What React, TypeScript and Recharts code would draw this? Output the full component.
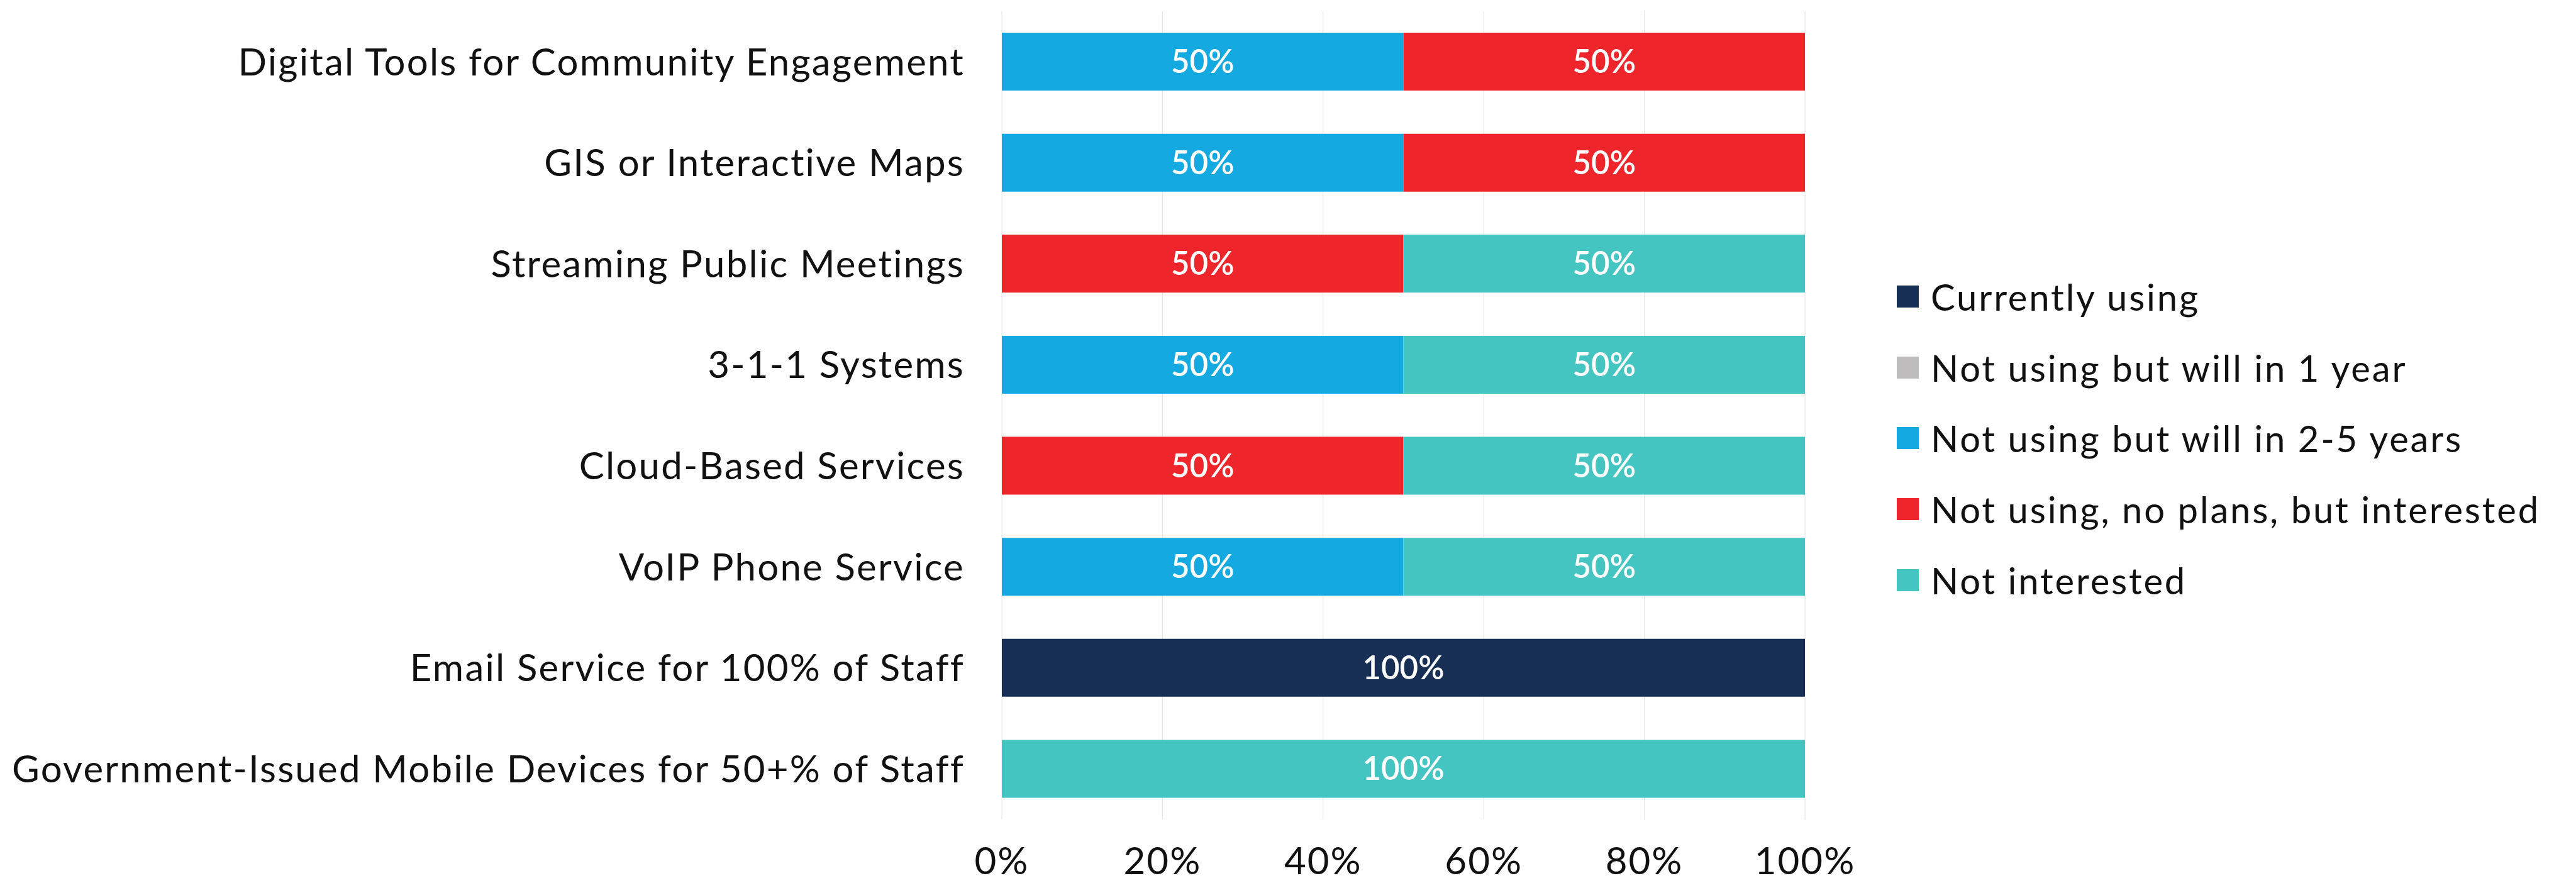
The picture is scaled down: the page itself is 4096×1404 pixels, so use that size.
import React from "react";
import {
  BarChart,
  Bar,
  XAxis,
  YAxis,
  CartesianGrid,
  Legend,
  LabelList,
} from "recharts";

// categories, top to bottom
const categories = [
  "Digital Tools for Community Engagement",
  "GIS or Interactive Maps",
  "Streaming Public Meetings",
  "3-1-1 Systems",
  "Cloud-Based Services",
  "VoIP Phone Service",
  "Email Service for 100% of Staff",
  "Government-Issued Mobile Devices for 50+% of Staff",
];

const currentlyUsing = [0, 0, 0, 0, 0, 0, 100, 0];
const willIn1Year = [0, 0, 0, 0, 0, 0, 0, 0];
const willIn2to5Years = [50, 50, 0, 50, 0, 50, 0, 0];
const interestedNoPlans = [50, 50, 50, 0, 50, 0, 0, 0];
const notInterested = [0, 0, 50, 50, 50, 50, 0, 100];

const xTicks = [0, 20, 40, 60, 80, 100];

const series = [
  { key: "current", name: "Currently using", values: currentlyUsing, color: "#172E55" },
  { key: "oneYear", name: "Not using but will in 1 year", values: willIn1Year, color: "#BDBBBC" },
  { key: "twoFive", name: "Not using but will in 2-5 years", values: willIn2to5Years, color: "#15A9E1" },
  { key: "interested", name: "Not using, no plans, but interested", values: interestedNoPlans, color: "#EE262C" },
  { key: "notInt", name: "Not interested", values: notInterested, color: "#45C5C2" },
];

const data = categories.map((name, i) => {
  const row: any = { name };
  series.forEach((s) => {
    row[s.key] = s.values[i];
  });
  return row;
});

const FONT = "Lato, 'Open Sans', sans-serif";

const renderLegend = () => (
  <ul style={{ listStyle: "none", margin: 0, padding: 0, fontFamily: FONT }}>
    {series.map((s) => (
      <li
        key={s.key}
        style={{
          display: "flex",
          alignItems: "center",
          height: 112.7,
          fontSize: 58,
          letterSpacing: 2.8,
          color: "#111",
          whiteSpace: "nowrap",
        }}
      >
        <span
          style={{ display: "inline-block", width: 35, height: 35, background: s.color, marginRight: 19 }}
        />
        <span>{s.name}</span>
      </li>
    ))}
  </ul>
);

export default function App() {
  return (
    <div style={{ width: 4096, height: 1404, background: "#fff" }}>
      <style>{"body{margin:0}"}</style>
      <BarChart
        width={4096}
        height={1404}
        data={data}
        layout="vertical"
        margin={{ top: 18, right: 1226, bottom: 0, left: 0 }}
      >
        <CartesianGrid horizontal={false} stroke="#E4E4E4" />
        <XAxis
          type="number"
          domain={[0, 100]}
          ticks={xTicks}
          tickFormatter={(v: number) => `${v}%`}
          axisLine={false}
          tickLine={false}
          tickSize={0}
          tickMargin={44}
          height={101}
          tick={{ fontSize: 60, fill: "#111", fontFamily: FONT, letterSpacing: 2 }}
        />
        <YAxis
          type="category"
          dataKey="name"
          width={1593}
          axisLine={false}
          tickLine={false}
          tickSize={0}
          tickMargin={59}
          interval={0}
          tick={{ fontSize: 60, fill: "#111", fontFamily: FONT, letterSpacing: 2.2 }}
        />
        <Legend
          layout="vertical"
          align="center"
          verticalAlign="middle"
          wrapperStyle={{ left: 3016, top: 415 }}
          content={renderLegend}
        />
        {series.map((s) => (
          <Bar
            key={s.key}
            dataKey={s.key}
            name={s.name}
            stackId="a"
            fill={s.color}
            barSize={92}
            isAnimationActive={false}
          >
            <LabelList
              dataKey={s.key}
              position="center"
              fill="#fff"
              fontSize={51}
              fontWeight={600}
              fontFamily={FONT}
              formatter={(v: any) => (v ? `${v}%` : "")}
            />
          </Bar>
        ))}
      </BarChart>
    </div>
  );
}
